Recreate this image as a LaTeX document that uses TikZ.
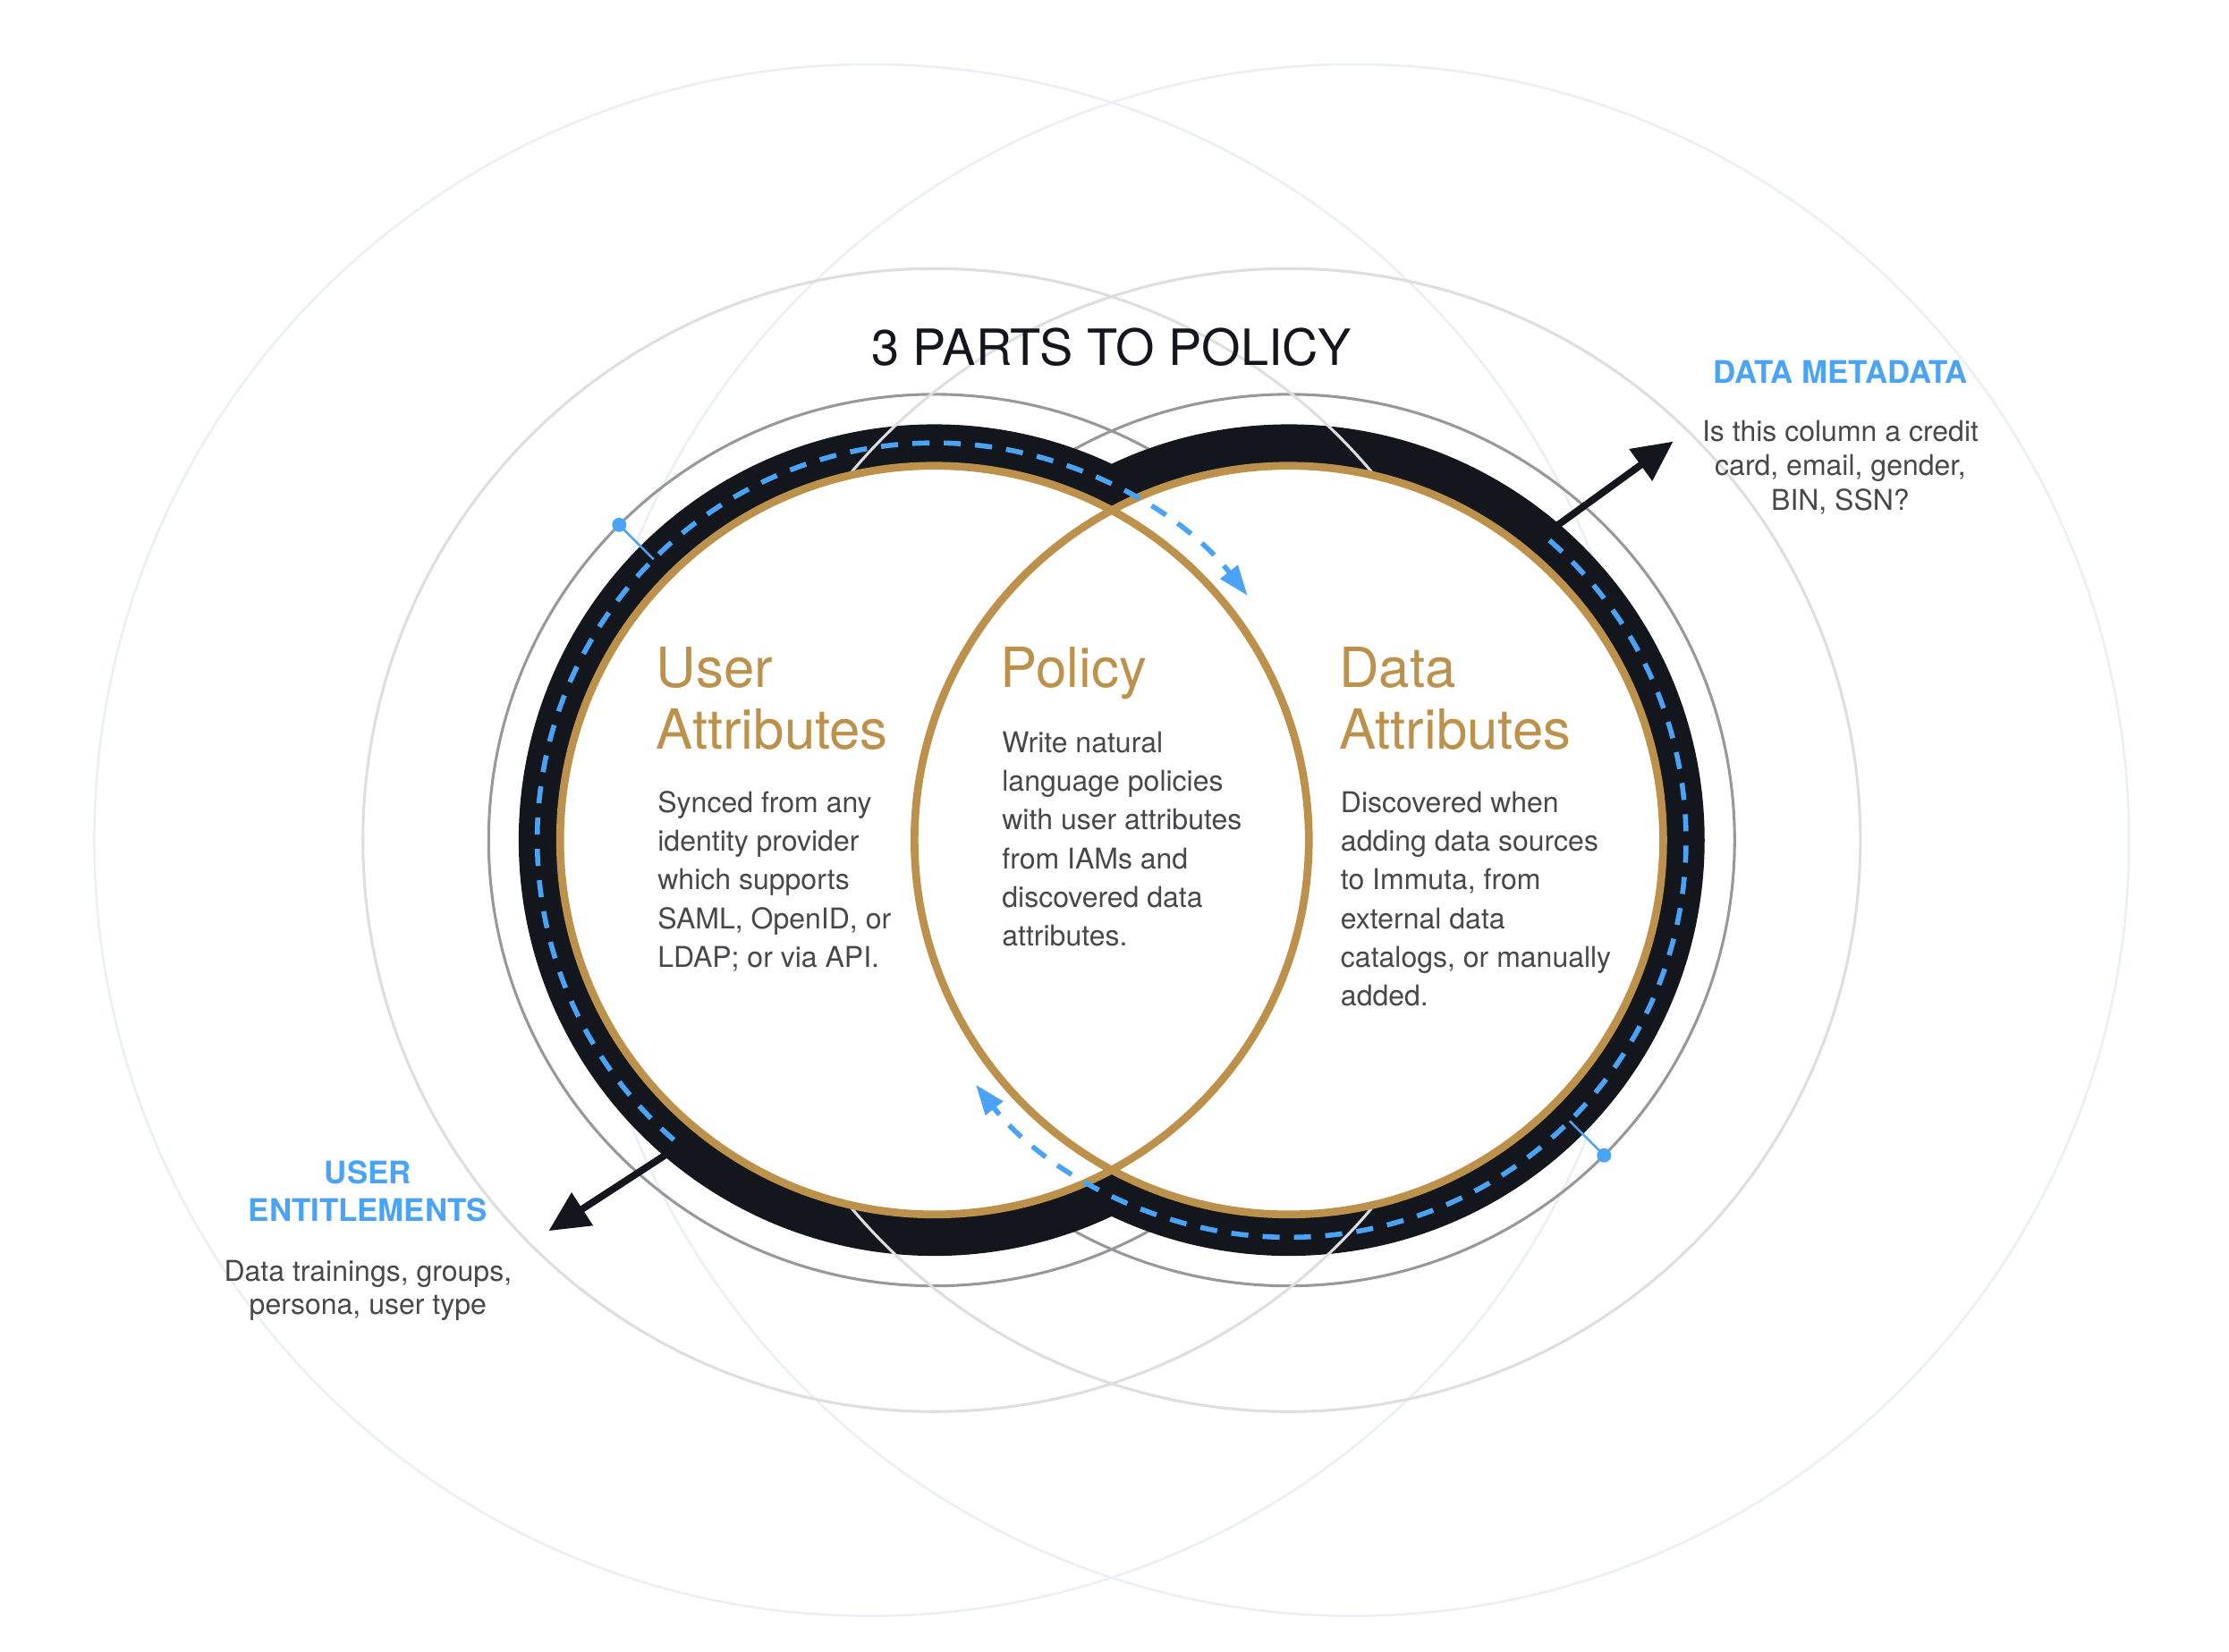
\documentclass[tikz,border=0pt]{standalone}
\usepackage{fontspec}
\setmainfont{TeX Gyre Heros}
\usetikzlibrary{arrows.meta}
\usetikzlibrary{positioning}
\definecolor{custom-gold}{RGB}{188, 145, 75}
\definecolor{custom-blue}{RGB}{74, 163, 245}
\definecolor{custom-ink}{RGB}{19, 22, 29}
\definecolor{custom-text}{RGB}{72, 72, 74}
\definecolor{ring-gray}{RGB}{152, 152, 156}
\definecolor{ring-light}{RGB}{222, 222, 225}
\definecolor{ring-faint}{RGB}{234, 239, 245}
\newcommand{\titlefont}{\fontsize{19.9}{24}\selectfont}
\newcommand{\headfont}{\fontsize{22}{24.5}\selectfont}
\newcommand{\bodyfont}{\fontsize{11.4}{15.4}\selectfont}
\newcommand{\tagfont}{\fontsize{12.4}{15.1}\selectfont\bfseries}

\begin{document}
\begin{tikzpicture}[x=0.2mm, y=0.2mm,
        heading/.style={font=\headfont, text=custom-gold, align=left, anchor=base west, inner sep=0pt},
        bodytext/.style={font=\bodyfont, text=custom-text, align=left, anchor=base west, inner sep=0pt},
        bluetag/.style={font=\tagfont, text=custom-blue, align=center, anchor=base, inner sep=0pt},
        flow/.style={custom-blue, line width=2pt, dash pattern=on 6.8pt off 5.7pt, -{Triangle[length=12pt, width=8.5pt]}},
        bigarrow/.style={custom-ink, line width=2.8pt, -{Triangle[length=16pt, width=15pt]}}]
    \useasboundingbox (0,0) rectangle (1560,1156);
    \coordinate (L) at (654,568);
    \coordinate (R) at (902,568);
    \coordinate (OL) at (609,568);
    \coordinate (OR) at (947,568);
    \draw [ring-faint, line width=0.9pt] (OL) circle[radius=543] (OR) circle[radius=543];
    \draw [ring-gray, line width=1.1pt] (L) circle[radius=312] (R) circle[radius=312];
    \fill [custom-ink] (L) circle[radius=291] (R) circle[radius=291];
    \draw [ring-light, line width=1.1pt] (L) circle[radius=400] (R) circle[radius=400];
    \fill [white] (L) circle[radius=262] (R) circle[radius=262];
    \draw [custom-gold, line width=3.1pt] (L) circle[radius=262] (R) circle[radius=262];

    \path (L) ++(135:312) coordinate (ldot) (L) ++(135:278) coordinate (lpin);
    \path (R) ++(-45:312) coordinate (rdot) (R) ++(-45:278) coordinate (rpin);
    \draw [custom-blue, line width=0.9pt] (ldot) -- (lpin) (rdot) -- (rpin);
    \fill [custom-blue] (ldot) circle[radius=5] (rdot) circle[radius=5];

    \draw [flow] (L) ++(229:278) arc[start angle=229, end angle=38, radius=278];
    \draw [flow] (R) ++(49:278) arc[start angle=49, end angle=-142, radius=278];

    \path (L) ++(229.6:288) coordinate (lout);
    \path (R) ++(49.6:288) coordinate (rout);
    \coordinate (ltip) at (384,294.5);
    \coordinate (rtip) at (1171,847);
    \draw [bigarrow] (lout) -- (ltip);
    \draw [bigarrow] (rout) -- (rtip);

    \node (title) [font=\titlefont, text=custom-ink, anchor=base, inner sep=0pt] at (778,900) {3 PARTS TO POLICY};

    \node (userhead) [heading] at (459,632) {User\\Attributes};
    \node (userbody) [bodytext] at (460,479) {Synced from any\\identity provider\\which supports\\SAML, OpenID, or\\LDAP; or via API.};
    \node (polhead) [heading] at (700,675) {Policy};
    \node (polbody) [bodytext] at (701,494) {Write natural\\language policies\\with user attributes\\from IAMs and\\discovered data\\attributes.};
    \node (datahead) [heading] at (937,632) {Data\\Attributes};
    \node (databody) [bodytext] at (938,452) {Discovered when\\adding data sources\\to Immuta, from\\external data\\catalogs, or manually\\added.};

    \node (metahead) [bluetag] at (1288,888) {DATA METADATA};
    \node (metabody) [font=\fontsize{11.4}{13.7}\selectfont, text=custom-text, align=center, anchor=base, inner sep=0pt] at (1288,799) {Is this column a credit\\card, email, gender,\\BIN, SSN?};
    \node (enthead) [bluetag] at (257.5,301) {USER\\ENTITLEMENTS};
    \node (entbody) [font=\fontsize{11.4}{13.4}\selectfont, text=custom-text, align=center, anchor=base, inner sep=0pt] at (257.5,236) {Data trainings, groups,\\persona, user type};
\end{tikzpicture}
\end{document}
